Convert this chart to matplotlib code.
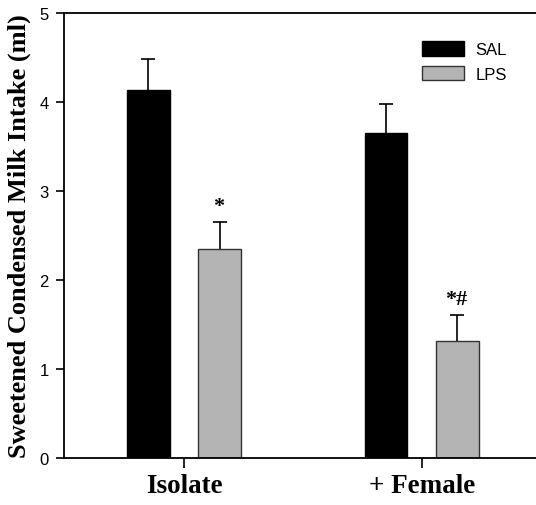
import matplotlib
matplotlib.use("Agg")
import matplotlib.pyplot as plt
import numpy as np

# data
groups = ["Isolate", "+ Female"]
sal_mean = [4.14, 3.65]
sal_sem = [0.34, 0.33]
lps_mean = [2.35, 1.32]
lps_sem = [0.30, 0.29]
lps_marks = ["*", "*#"]

SERIF = ["Liberation Serif", "DejaVu Serif"]
SANS = ["Liberation Sans", "DejaVu Sans"]

fig = plt.figure(figsize=(5.36, 5.06), dpi=100)
ax = fig.add_axes([0.1194, 0.0929, 0.8806, 0.8794])

x = np.arange(len(groups))
w = 0.18
off = 0.15

ax.bar(x - off, sal_mean, w, color="black", edgecolor="black", linewidth=1, label="SAL", zorder=2)
ax.bar(x + off, lps_mean, w, color="#b4b4b4", edgecolor="#333333", linewidth=1, label="LPS", zorder=2)

# upper error bars only
for xs, m, s in [(x - off, sal_mean, sal_sem), (x + off, lps_mean, lps_sem)]:
    eb = ax.errorbar(xs, m, yerr=[np.zeros(2), s], fmt="none",
                     ecolor="black", elinewidth=1.2, capsize=5, capthick=1.2, zorder=1)
    eb[1][0].set_visible(False)  # hide lower cap

for xi, m, s, t in zip(x + off, lps_mean, lps_sem, lps_marks):
    ax.text(xi - 0.005, m + s + 0.12, t, ha="center", va="baseline", fontsize=16,
            fontweight="bold", family=SERIF)

ax.set_xlim(-0.505, 1.481)
ax.set_ylim(0, 5)
ax.set_yticks([0, 1, 2, 3, 4, 5])
ax.set_xticks(x)
ax.set_xticklabels(groups, fontsize=19.5, fontweight="bold", family=SERIF)
for lab in ax.get_yticklabels():
    lab.set_family(SANS)
    lab.set_fontsize(12)
ax.tick_params(axis="y", direction="out", length=6, width=1.2, pad=5)
ax.tick_params(axis="x", direction="out", length=7, width=1.2, pad=4)

ax.spines["right"].set_visible(False)
for sp in ["left", "bottom", "top"]:
    ax.spines[sp].set_linewidth(1.3)

ax.set_ylabel("Sweetened Condensed Milk Intake (ml)", fontsize=19,
              fontweight="bold", family=SERIF, labelpad=6)

leg = ax.legend(loc="upper left", bbox_to_anchor=(0.731, 0.966), frameon=False,
                prop={"family": SANS, "size": 12}, handlelength=2.5,
                handleheight=0.95, handletextpad=0.7, labelspacing=0.5,
                borderpad=0.3)

fig.savefig("out.png", dpi=100)
